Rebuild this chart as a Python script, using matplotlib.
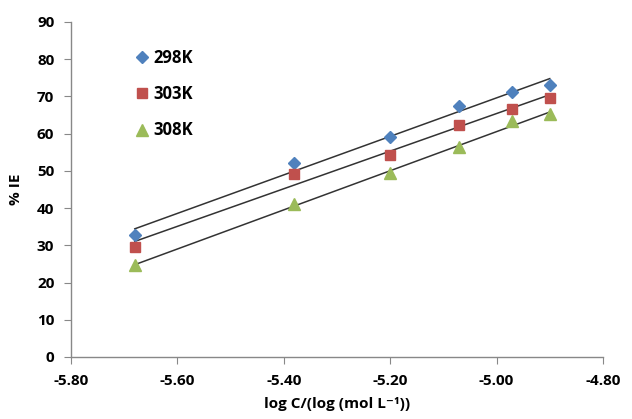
import numpy as np
import matplotlib
matplotlib.use("Agg")
import matplotlib.pyplot as plt

# Werte
log_c = [-5.68, -5.38, -5.20, -5.07, -4.97, -4.90]
ie_298 = [32.8, 52.2, 59.2, 67.3, 71.1, 73.0]
ie_303 = [29.5, 49.2, 54.3, 62.4, 66.7, 69.7]
ie_308 = [24.7, 41.1, 49.4, 56.5, 63.3, 65.2]
labels = ["298K", "303K", "308K"]
xticks = [-5.80, -5.60, -5.40, -5.20, -5.00, -4.80]
yticks = list(range(0, 91, 10))

plt.rcParams["font.family"] = ["Open Sans", "DejaVu Sans"]
plt.rcParams["font.weight"] = "bold"

fig = plt.figure(figsize=(6.32, 4.19), dpi=100)
ax = fig.add_axes([0.1123, 0.148, 0.8417, 0.7995])

series = [
    (ie_298, "D", "#4F81BD", 6.5),
    (ie_303, "s", "#C0504D", 7.5),
    (ie_308, "^", "#9BBB59", 8),
]
x = np.array(log_c)
for (vals, m, col, ms), lab in zip(series, labels):
    ax.plot(x, vals, linestyle="none", marker=m, color=col, markersize=ms, label=lab)
    # lineare Trendlinie
    k, d = np.polyfit(x, vals, 1)
    ax.plot(x[[0, -1]], k * x[[0, -1]] + d, color="#333333", lw=1.1, zorder=1)

ax.set_xlim(-5.8, -4.8)
ax.set_ylim(0, 90)
ax.set_xticks(xticks)
ax.set_xticklabels([f"{v:.2f}" for v in xticks], fontweight="bold", fontsize=11)
ax.set_yticks(yticks)
ax.set_yticklabels([str(v) for v in yticks], fontweight="bold", fontsize=11)

for s in ["top", "right"]:
    ax.spines[s].set_visible(False)
for s in ["left", "bottom"]:
    ax.spines[s].set_color("#888888")
    ax.spines[s].set_linewidth(1.0)
ax.tick_params(direction="out", length=5, color="#888888", pad=7)

ax.set_xlabel("log C/(log (mol L\u207b\u00b9))", fontsize=11, fontweight="bold", labelpad=7)
ax.set_ylabel("% IE", fontsize=11, fontweight="bold", labelpad=10)

leg = ax.legend(loc="upper left", bbox_to_anchor=(0.09, 0.965), frameon=False,
                labelspacing=1.1, handletextpad=0.2, handlelength=1.0,
                prop={"weight": "bold", "size": 12})

fig.savefig("out.png", dpi=100)
